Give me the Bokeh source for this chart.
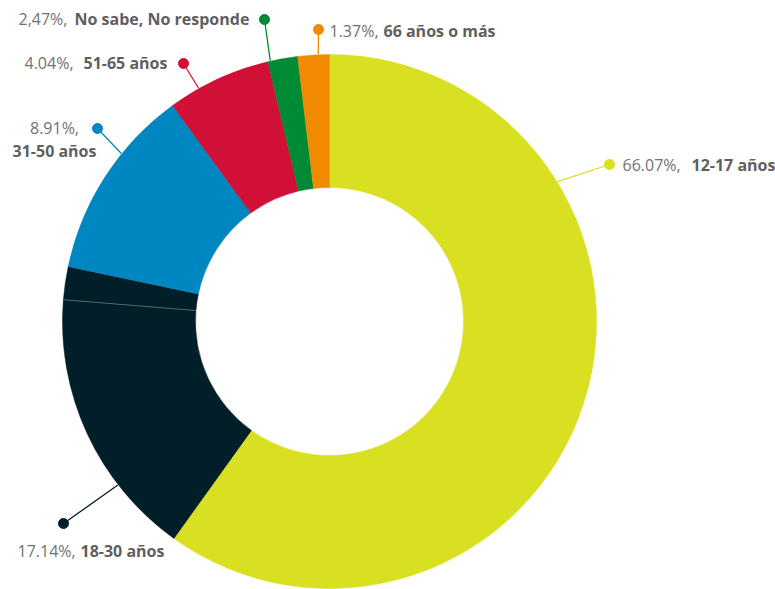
import math
from bokeh.plotting import figure
from bokeh.models import Range1d, ColumnDataSource
from bokeh.core.properties import value
from bokeh.embed import file_html
from bokeh.resources import INLINE

# ---- data: slices as drawn, clockwise from 12 o'clock (percent of circle) ----
slice_names = ["12-17 años", "18-30 años", "18-30 años (b)", "31-50 años",
               "51-65 años", "No sabe, No responde", "66 años o más"]
slice_shares = [59.9, 16.4, 2.0, 11.7, 6.3, 1.8, 1.9]
slice_colors = ["#d9e021", "#011e29", "#011e29", "#0087c1",
                "#d01036", "#008a34", "#f18a00"]

# ---- data: labels ----
label_pcts = ["66.07%,", "17.14%,", "8.91%,", "4.04%,", "2,47%,", "1.37%,"]
label_names = ["12-17 años", "18-30 años", "31-50 años", "51-65 años",
               "No sabe, No responde", "66 años o más"]
label_colors = ["#d9e021", "#011e29", "#0087c1", "#d01036", "#008a34", "#f18a00"]

# ---- layout (screen pixel coordinates of the 775x589 picture) ----
W, H = 775, 589
def Y(sy):
    return H - sy

cx, cy = 329, Y(321)
r_out, r_in = 267, 134

# connector start angle (deg, ccw from east), dot position
conn_angle = [31.5, 217.7, 141.1, 119.3, 102.8, 92.4]
dot_x = [609, 63, 97, 183, 264, 318]
dot_y = [164, 523, 128, 63, 19, 29]
# text positions: pct part (x, y, align), name part (x, y, align)
pct_pos = [(622, 164, "left"), (17, 550, "left"), (54, 127, "center"),
           (24, 62, "left"), (18, 18, "left"), (329, 30, "left")]
name_pos = [(691, 164, "left"), (80, 550, "left"), (54, 150, "center"),
            (83, 62, "left"), (74, 18, "left"), (383, 30, "left")]

p = figure(width=W, height=H, output_backend="svg", toolbar_location=None,
           x_range=Range1d(0, W), y_range=Range1d(0, H),
           min_border=0, outline_line_color=None)
p.axis.visible = False
p.grid.visible = False
p.background_fill_color = "white"
p.border_fill_color = "white"

# wedges
starts, ends = [], []
cum = 0.0
for s in slice_shares:
    a0 = math.pi / 2 - cum / 100 * 2 * math.pi
    cum += s
    a1 = math.pi / 2 - cum / 100 * 2 * math.pi
    starts.append(a0)
    ends.append(a1)

src = ColumnDataSource(dict(x=[cx] * len(slice_shares), y=[cy] * len(slice_shares),
                            start=starts, end=ends, color=slice_colors))
p.annular_wedge(x="x", y="y", inner_radius=r_in, outer_radius=r_out,
                start_angle="start", end_angle="end", direction="clock",
                fill_color="color", line_color="color", line_width=0.5, source=src)

# faint separator between the two dark slices
sep = ends[1]
p.segment(x0=[cx + r_in * math.cos(sep)], y0=[cy + r_in * math.sin(sep)],
          x1=[cx + r_out * math.cos(sep)], y1=[cy + r_out * math.sin(sep)],
          line_color="#56656c", line_width=1)

# connectors
for i in range(len(label_pcts)):
    a = math.radians(conn_angle[i])
    sx = cx + (r_out + 0.5) * math.cos(a)
    sy = cy + (r_out + 0.5) * math.sin(a)
    p.line([sx, dot_x[i]], [sy, Y(dot_y[i])], line_color=label_colors[i], line_width=1.3)
    p.scatter([dot_x[i]], [Y(dot_y[i])], size=10, fill_color=label_colors[i],
              line_color=label_colors[i])

# label texts
for i in range(len(label_pcts)):
    px, py, pa = pct_pos[i]
    nx, ny, na = name_pos[i]
    p.text(x=[px], y=[Y(py)], text=[label_pcts[i]], text_font=value("Open Sans"),
           text_font_size="16px", text_color="#727272", text_align=pa,
           text_baseline="middle")
    p.text(x=[nx], y=[Y(ny)], text=[label_names[i]], text_font=value("Open Sans"),
           text_font_size="16px", text_font_style="bold", text_color="#5f5f5f",
           text_align=na, text_baseline="middle")

open("out.html", "w").write(file_html(p, INLINE))
